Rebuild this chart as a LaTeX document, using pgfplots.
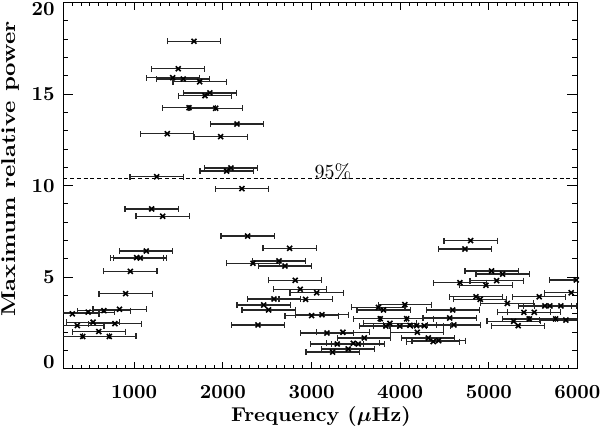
\documentclass[border=0pt]{standalone}
\usepackage{pgfplots}
\pgfplotsset{compat=1.18}
\pgfplotstableread{
x y
1674 17.89
1497 16.39
1434 15.90
1553 15.83
1738 15.68
1854 15.07
1798 14.92
1618 14.26
1919 14.23
2159 13.37
1373 12.84
1975 12.68
2091 10.97
2043 10.80
1253 10.49
2215 9.84
1197 8.73
1321 8.33
2279 7.25
2753 6.58
1136 6.43
1028 6.07
1068 6.05
2339 5.76
2633 5.89
2700 5.61
956 5.32
2816 4.83
2873 4.34
3058 4.15
903 4.10
2576 3.81
2933 3.79
2460 3.48
2516 3.21
834 3.25
658 3.17
480 3.09
302 3.00
3001 2.90
3118 2.95
536 2.54
782 2.46
358 2.36
2396 2.39
600 2.03
419 1.76
719 1.76
3174 1.95
3354 1.99
3290 1.35
3238 0.91
4795 7.00
4730 6.54
5031 5.34
5155 5.17
5986 4.85
5088 4.81
4674 4.70
4967 4.56
5929 4.15
5568 3.93
4855 3.93
4903 3.79
5208 3.57
4052 3.50
3755 3.35
3812 3.21
4593 3.21
5632 3.43
5689 3.43
5813 3.43
5396 3.08
5512 3.08
3775 2.73
4073 2.73
4558 2.77
3884 2.48
3839 2.33
3997 2.33
4110 2.37
4185 2.35
4271 2.35
4606 2.39
5279 2.59
5331 2.35
5456 2.72
5753 2.72
5869 2.66
4193 1.99
3595 1.68
4317 1.68
4373 1.48
4434 1.53
3471 1.39
3527 1.35
3414 1.08
}\peaks
\begin{document}
\begin{tikzpicture}
\useasboundingbox (-31.65pt,-29.65pt) rectangle (268.85pt,184.35pt);
\begin{axis}[
  at={(0,0)}, anchor=south west,
  scale only axis, width=257.1pt, height=183pt,
  xmin=200, xmax=6000, ymin=0, ymax=20,
  xtick={1000,2000,3000,4000,5000,6000},
  xticklabels={1000,2000,3000,4000,5000,6000},
  minor xtick={200,300,...,6000},
  ytick={0,5,10,15,20},
  yticklabels={\smash{0},5,10,15,\smash{\raisebox{-\height}{20}}},
  minor y tick num=4,
  tick align=inside, xtick pos=both, ytick pos=both,
  xtick style={/pgfplots/major tick length=3.5pt,/pgfplots/minor tick length=1.75pt, line width=0.5pt, black},
  ytick style={/pgfplots/major tick length=5pt,/pgfplots/minor tick length=2.5pt, line width=0.5pt, black},
  xticklabel style={font=\bfseries, yshift=-4.8pt},
  yticklabel style={font=\bfseries, xshift=-0.8pt},
  axis line style={line width=0.7pt},
  clip mode=individual,
]
\addplot[black, line width=0.5pt, dash pattern=on 2pt off 1.4pt] coordinates {(200,10.4) (6000,10.4)};
\addplot[only marks, mark=x, mark size=1.75pt, black,
  mark options={line width=0.8pt},
  error bars/.cd, x dir=both, x fixed=300,
  error mark=|,
  error bar style={line width=0.6pt, black!85},
  error mark options={mark size=1.5pt, line width=0.6pt}]
  table[x=x, y=y] {\peaks};
\node[font=\normalsize] at (axis cs:3242,10.75) {95\%};
\node[rotate=90, anchor=base, font=\bfseries] at (axis description cs:-0.0939,0.5456) {\scalebox{1.17}[1]{Maximum relative power}};
\node[anchor=base, font=\bfseries] at (axis description cs:0.501,-0.1448) {\scalebox{1.05}[1]{Frequency ({\boldmath$\mu$}Hz)}};
\end{axis}
\end{tikzpicture}
\end{document}
